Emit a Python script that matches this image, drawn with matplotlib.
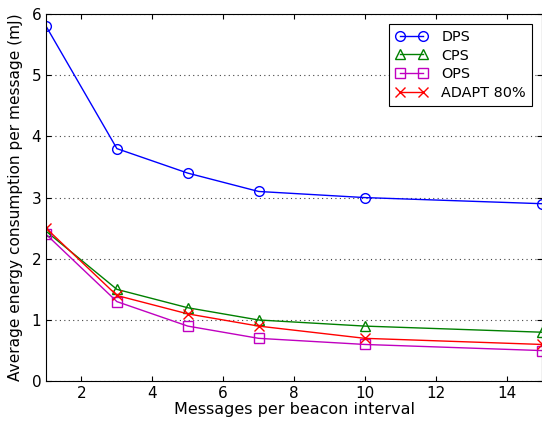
import matplotlib
matplotlib.use("Agg")
from matplotlib import pyplot as plt

msgs = [1, 3, 5, 7, 10, 15]
dps = [5.8, 3.8, 3.4, 3.1, 3.0, 2.9]
cps = [2.45, 1.5, 1.2, 1.0, 0.9, 0.8]
ops = [2.4, 1.3, 0.9, 0.7, 0.6, 0.5]
adapt = [2.5, 1.4, 1.1, 0.9, 0.7, 0.6]

series = [
    ("DPS", dps, "#0000ff", "o"),
    ("CPS", cps, "#008000", "^"),
    ("OPS", ops, "#c000c0", "s"),
    ("ADAPT 80%", adapt, "#ff0000", "x"),
]

fig = plt.figure(figsize=(5.42, 4.24), dpi=100)
ax = fig.add_axes([0.085, 0.101, 0.915, 0.866])

for name, vals, color, marker in series:
    ax.plot(msgs, vals, color=color, marker=marker, markersize=7,
            markerfacecolor="none", markeredgecolor=color, linewidth=1,
            label=name)

ax.set_xlim(1, 15)
ax.set_ylim(0, 6)
ax.set_xticks([2, 4, 6, 8, 10, 12, 14])
ax.set_yticks([0, 1, 2, 3, 4, 5, 6])
ax.tick_params(direction="in", labelsize=11, top=True, right=True)
ax.yaxis.grid(True, linestyle=(0, (1, 3)), color="#444444", linewidth=0.8)
ax.set_xlabel("Messages per beacon interval", fontsize=11.5, labelpad=1)
ax.set_ylabel("Average energy consumption per message (mJ)", fontsize=11.1, labelpad=6)

leg = ax.legend(loc="upper right", fontsize=10.4, fancybox=False, framealpha=1,
                edgecolor="black", borderaxespad=0.7, handlelength=2.2,
                numpoints=2, labelspacing=0.32, handletextpad=1.0)
leg.get_frame().set_linewidth(0.8)

fig.savefig("out.png", dpi=100)
